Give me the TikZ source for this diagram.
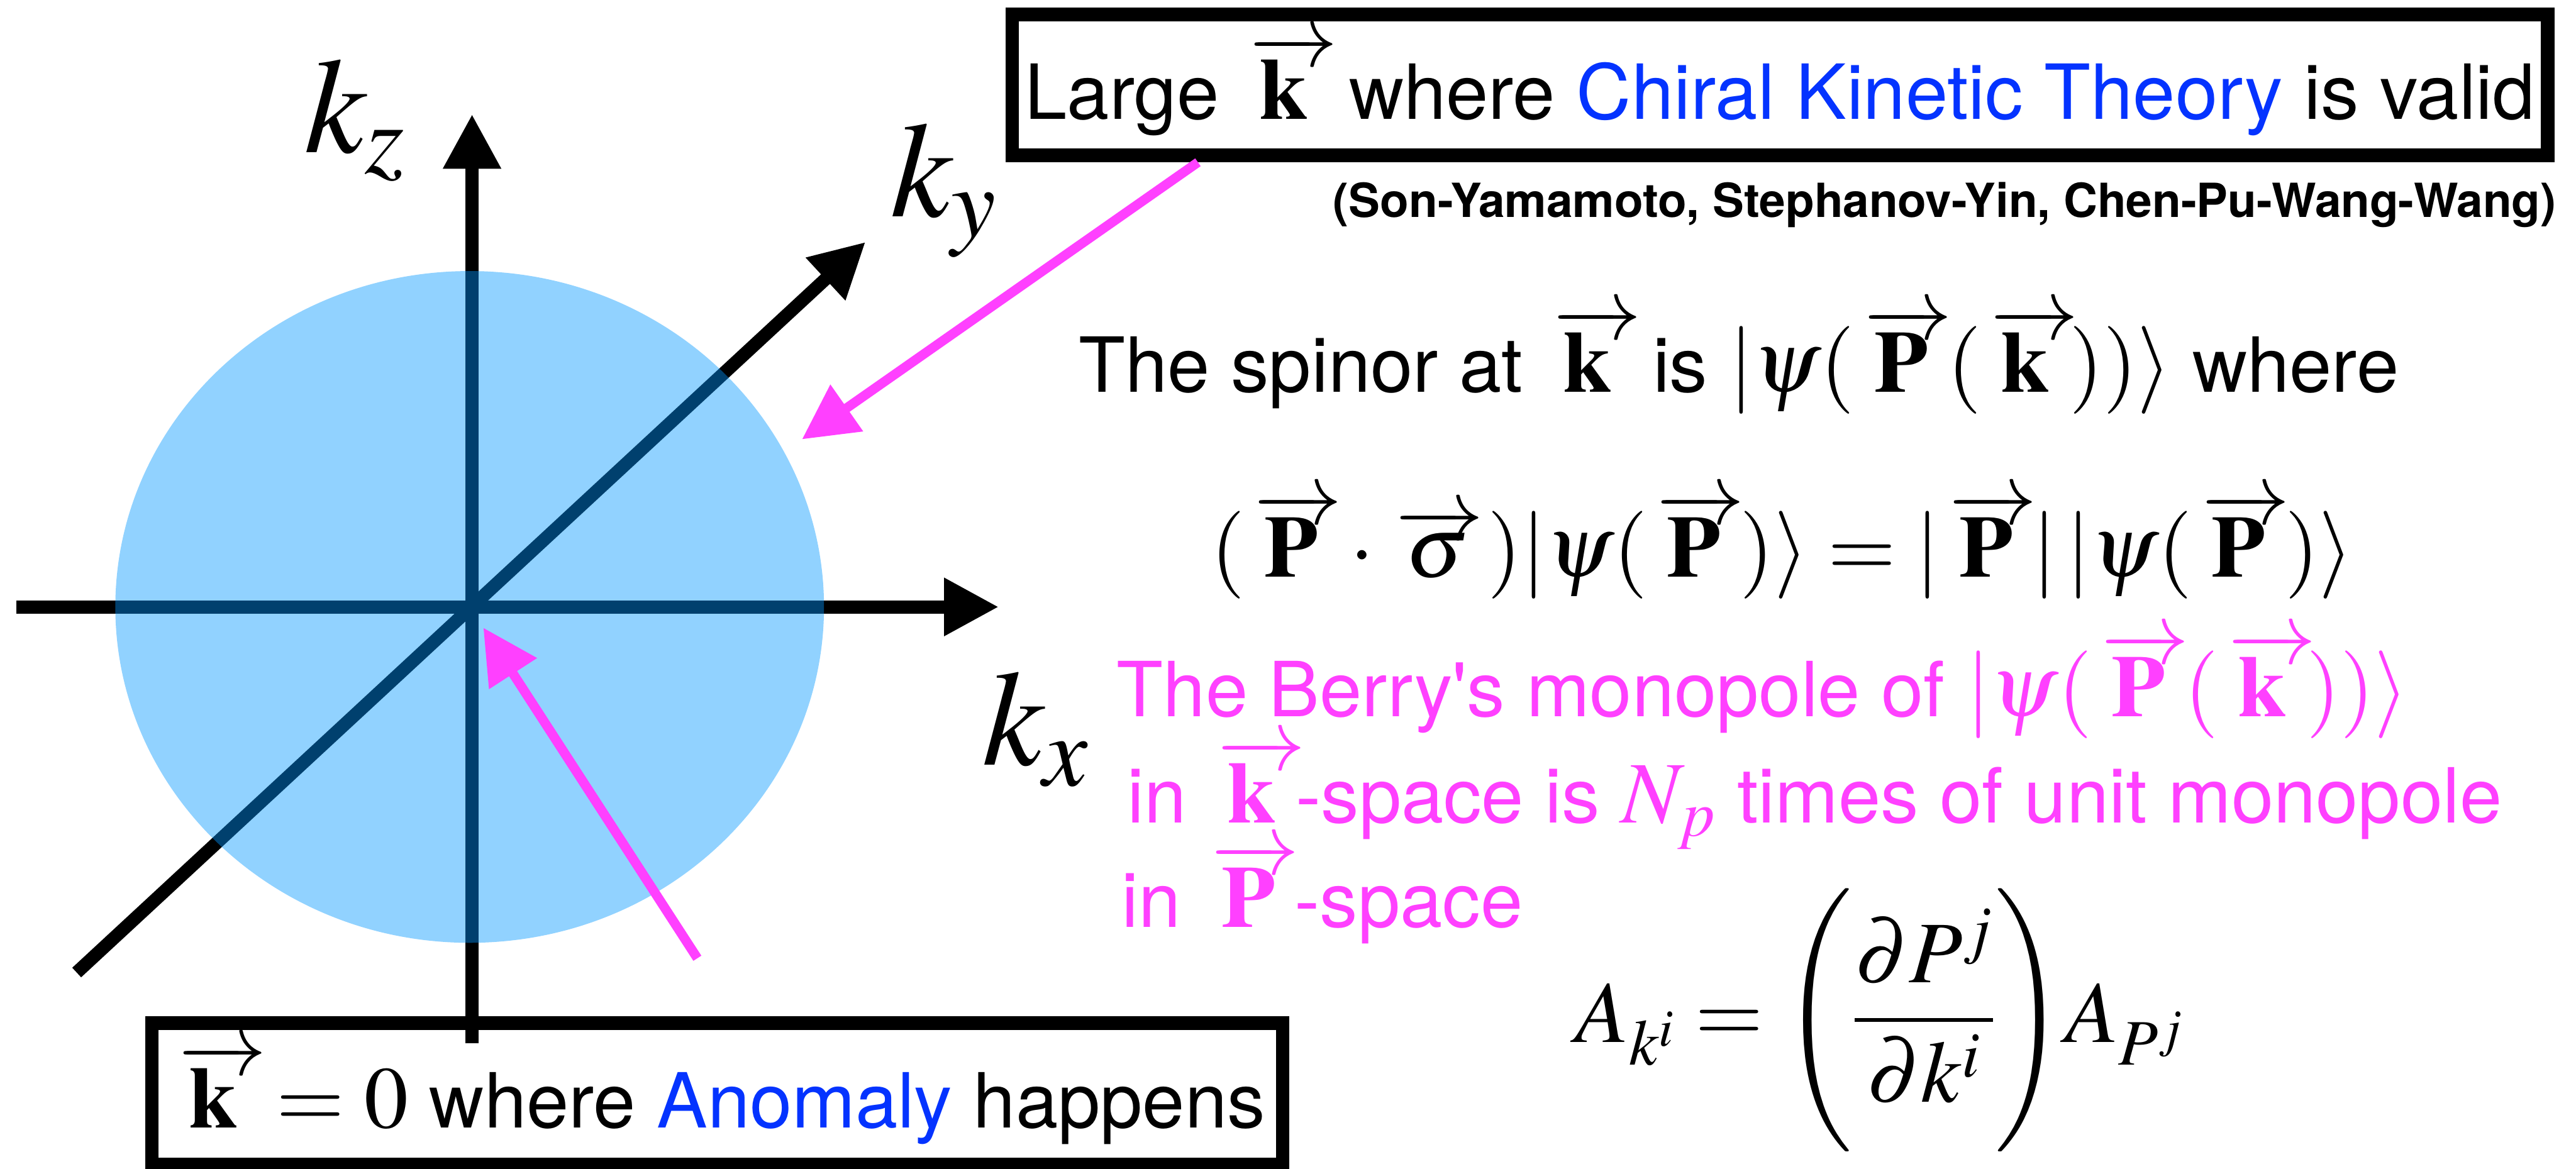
\documentclass[tikz,border=0pt]{standalone}
\usepackage{mathptmx}
\usepackage[no-math]{fontspec}
\setmainfont{TeX Gyre Heros}
\usetikzlibrary{arrows.meta}

\definecolor{cktblue}{RGB}{4,51,255}
\definecolor{berrypink}{RGB}{255,64,255}
\definecolor{diskblue}{RGB}{0,150,255}

\newcommand{\txtsize}{\fontsize{36.4}{44}\selectfont}
\newcommand{\mathsz}{\fontsize{42}{48}\selectfont}
\newcommand{\mth}[1]{{\mathsz$#1$}}
% long arrow sitting close above a bold letter
\newcommand{\vecbf}[1]{\mkern2mu\mathord{\setbox0\hbox{$\displaystyle\,#1\,$}%
    \rlap{\raisebox{\dimexpr\ht0-0.07em\relax}{\hbox to\wd0{\rightarrowfill}}}\box0}\mkern2mu}
\newcommand{\vk}{\vecbf{\mathbf{k}}}
\newcommand{\vP}{\vecbf{\mathbf{P}}}

\begin{document}
\begin{tikzpicture}[
    axis/.style={line width=0.22cm, -{Triangle[length=0.92cm, width=0.92cm]}},
    pinkarrow/.style={berrypink, line width=0.16cm, -{Triangle[length=0.92cm, width=0.92cm]}},
    thickbox/.style={draw, line width=0.23cm, inner sep=0pt, font=\txtsize},
    axlabel/.style={anchor=base west, inner sep=0pt, font=\fontsize{65}{70}\selectfont},
    txt/.style={anchor=base west, inner sep=0pt, font=\txtsize}]
    \useasboundingbox (0,0) rectangle (43.33,-19.66);

    % boxes
    \node[thickbox, minimum width=25.83cm, minimum height=2.37cm] (cktbox) at (29.94,-1.43)
        {Large \mth{\vk} where \textcolor{cktblue}{Chiral Kinetic Theory} is valid};
    \node[thickbox, minimum width=19.02cm, minimum height=2.37cm] (anombox) at (12.065,-18.40)
        {\mth{\vk = 0} where \textcolor{cktblue}{Anomaly} happens};
    \node[anchor=base east, inner sep=0pt, font=\fontsize{22.5}{26}\selectfont\bfseries] (refs) at (43.0,-3.65)
        {(Son-Yamamoto, Stephanov-Yin, Chen-Pu-Wang-Wang)};

    % axes
    \coordinate (O) at (7.94,-10.21);
    \coordinate (zlow) at (7.94,-17.55);
    \coordinate (ztip) at (7.94,-1.92);
    \coordinate (xlow) at (0.28,-10.21);
    \coordinate (xtip) at (16.80,-10.21);
    \coordinate (ylow) at (1.29,-16.36);
    \coordinate (ytip) at (14.56,-4.07);
    \draw[axis] (zlow) -- (ztip);
    \draw[axis] (xlow) -- (xtip);
    \draw[axis] (ylow) -- (ytip);

    % Fermi sphere
    \fill[diskblue, opacity=0.43] (7.90,-10.21) ellipse (5.96 and 5.65);

    % pointers
    \coordinate (cktfoot) at (20.15,-2.73);
    \coordinate (cktpoint) at (13.49,-7.39);
    \coordinate (anomfoot) at (11.73,-16.12);
    \coordinate (anompoint) at (8.13,-10.56);
    \draw[pinkarrow] (cktfoot) -- (cktpoint);
    \draw[pinkarrow] (anomfoot) -- (anompoint);

    % axis labels
    \node[axlabel] (kz) at (5.12,-2.57) {$k_z$};
    \node[axlabel] (ky) at (14.98,-3.64) {$k_y$};
    \node[axlabel] (kx) at (16.52,-12.87) {$k_x$};

    % spinor text
    \node[txt] (spinor) at (18.14,-6.60)
        {The spinor at \mth{\vk} is \mth{|\psi(\vP(\vk))\rangle} where};
    \node[txt] (eigen) at (20.36,-9.71)
        {\mth{(\vP\cdot\vecbf{\sigma})|\psi(\vP)\rangle = |\vP|\,|\psi(\vP)\rangle}};

    % Berry monopole
    \node[txt, text=berrypink] (berryA) at (18.78,-12.05)
        {The Berry\textquotesingle s monopole of \mth{|\psi(\vP(\vk))\rangle}};
    \node[txt, text=berrypink] (berryB) at (18.96,-13.84)
        {in \mth{\vk}-space is \mth{N_p} times of unit monopole};
    \node[txt, text=berrypink] (berryC) at (18.86,-15.60)
        {in \mth{\vP}-space};

    % gauge field
    \node[txt] (gauge) at (26.49,-17.53)
        {\mth{A_{k^i} = \Bigg(\displaystyle\frac{\partial P^j}{\partial k^i}\Bigg) A_{P^j}}};
\end{tikzpicture}
\end{document}
